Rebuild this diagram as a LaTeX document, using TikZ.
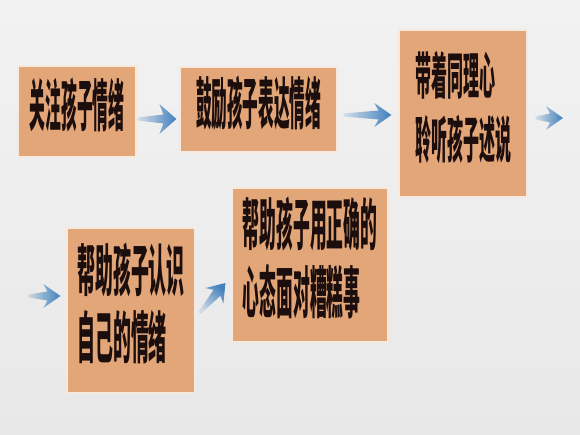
\documentclass[tikz,border=0pt]{standalone}
\usepackage{fontspec}
\usepackage{graphicx}
\newfontfamily\cjk{Noto Sans CJK SC}
\usetikzlibrary{calc,fadings}
\definecolor{bgtop}{RGB}{242,242,242}
\definecolor{bgbot}{RGB}{232,232,232}
\definecolor{boxfill}{RGB}{226,166,121}
\definecolor{boxedge}{RGB}{246,234,222}
\definecolor{txt}{RGB}{28,14,12}
\definecolor{arrblue}{RGB}{66,128,190}
\tikzfading[name=tailfade, left color=transparent!85, right color=transparent!0]
\newcommand\sq[2]{\scalebox{#1}[1]{\begin{tabular}{@{}l@{}}#2\end{tabular}}}
\newcommand\fatarrow[4]{% start, end, head half width, fading angle
  \fill[arrblue, path fading=tailfade, fading angle=#4, fit fading=true]
    ($(#1)!1.5pt!90:(#2)$)
    -- ($ ($(#2)!13pt!(#1)$) ! 4.5pt ! 90:(#2) $)
    -- ($ ($(#2)!17pt!(#1)$) ! #3 ! 90:(#2) $)
    -- (#2)
    -- ($ ($(#2)!17pt!(#1)$) ! #3 ! -90:(#2) $)
    -- ($ ($(#2)!13pt!(#1)$) ! 4.5pt ! -90:(#2) $)
    -- ($(#1)!1.5pt!-90:(#2)$) -- cycle;}
\tikzset{
  box/.style={rectangle, fill=boxfill, draw=boxedge, line width=1.2pt,
    inner sep=0pt, text=txt, font=\cjk\bfseries\fontsize{56}{64}\selectfont},
}
\begin{document}
\begin{tikzpicture}[x=1pt,y=-1pt]
\useasboundingbox (0,0) rectangle (580,435);
\shade[top color=bgtop, bottom color=bgbot] (0,0) rectangle (580,435);

\node[box, minimum width=118, minimum height=91] (b1) at (77,111.5)
  {\sq{0.282}{关注孩子情绪}};
\node[box, minimum width=157, minimum height=85] (b2) at (258.5,109.5)
  {\sq{0.279}{鼓励孩子表达情绪}};
\node[box, minimum width=128, minimum height=167,
  font=\cjk\bfseries\fontsize{50}{64}\selectfont] (b3) at (463,113.5)
  {\sq{0.32}{带着同理心\\聆听孩子述说}};
\node[box, minimum width=128, minimum height=165] (b4) at (131,310.5)
  {\sq{0.32}{帮助孩子认识\\自己的情绪}};
\node[box, minimum width=156, minimum height=154] (b5) at (310,265)
  {\sq{0.30}{帮助孩子用正确的\\心态面对糟糕事}};

\coordinate (a1s) at ($(b1.east)+(1,7.5)$);
\coordinate (a1e) at ($(b2.west)+(-3,9.5)$);
\coordinate (a2s) at ($(b2.east)+(6,5.5)$);
\coordinate (a2e) at ($(b3.west)+(-7,1.5)$);
\coordinate (a3s) at ($(b3.east)+(8,4.5)$);
\coordinate (a3e) at (563,118);
\coordinate (a4s) at (28,296);
\coordinate (a4e) at ($(b4.west)+(-6,-14.5)$);
\coordinate (a5s) at ($(b4.east)+(4,2.5)$);
\coordinate (a5e) at ($(b5.west)+(-6,18)$);

\fatarrow{a1s}{a1e}{15pt}{0}
\fatarrow{a2s}{a2e}{12pt}{0}
\fatarrow{a3s}{a3e}{12pt}{0}
\fatarrow{a4s}{a4e}{12pt}{0}
\fatarrow{a5s}{a5e}{12pt}{48}
\end{tikzpicture}
\end{document}
